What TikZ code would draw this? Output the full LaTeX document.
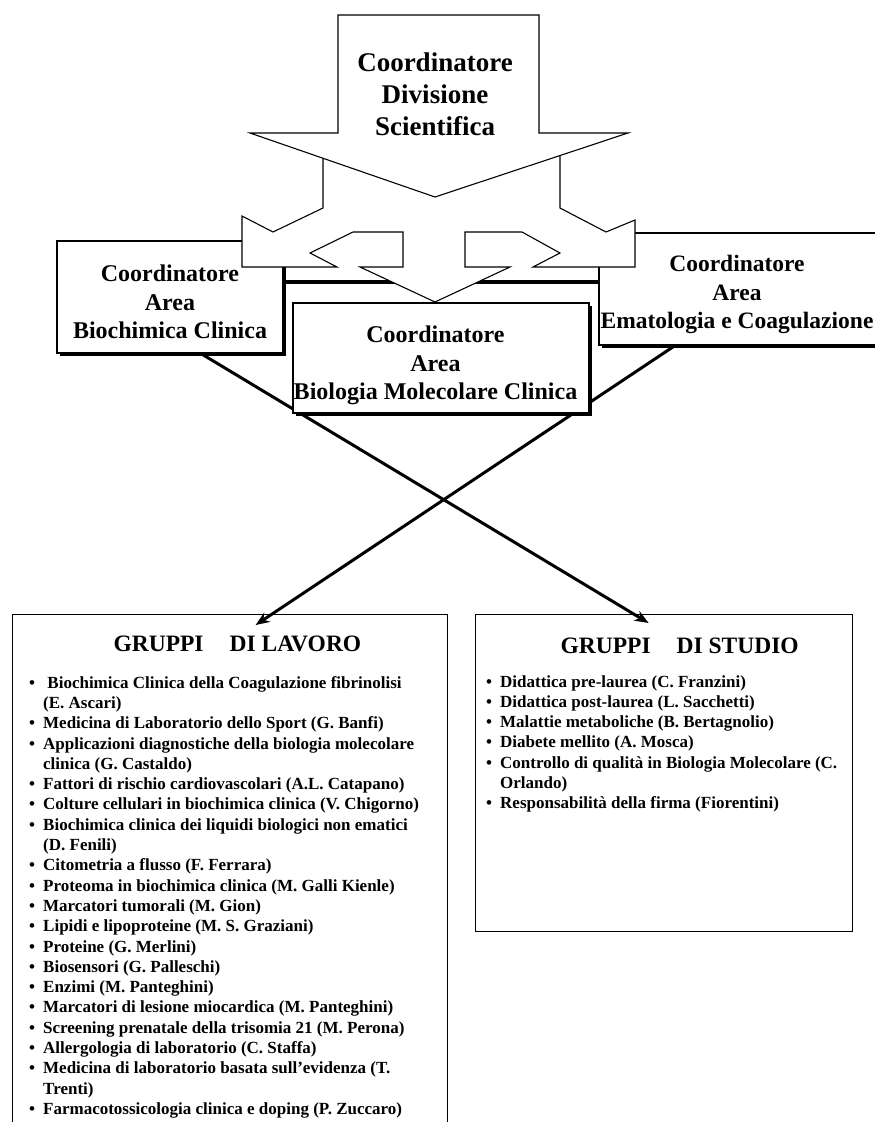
\documentclass[tikz,border=0pt]{standalone}
\usepackage{fontspec}
\setmainfont{Liberation Serif}
\usetikzlibrary{positioning,shadows,arrows.meta}

\newcommand{\gitem}[1]{\makebox[14pt][l]{\textbullet}#1}
\newcommand{\gcont}[1]{\hspace*{14pt}#1}

\tikzset{
	coordbox/.style={draw,fill=white,line width=1.2pt,inner sep=0pt,
		drop shadow={shadow xshift=2.5pt,shadow yshift=-2.5pt,fill=black,opacity=1}},
	coordtext/.style={align=center,inner sep=0pt,font=\fontsize{24}{28.5}\selectfont\bfseries},
	groupbox/.style={draw,line width=1.2pt,inner sep=0pt,anchor=north west},
	grouptitle/.style={font=\fontsize{23.5}{28}\selectfont\bfseries,inner sep=0pt},
	grouplist/.style={font=\fontsize{17}{20.3}\selectfont\bfseries,align=left,inner sep=0pt,anchor=north west},
	bigarrow/.style={draw,fill=white,line width=1.1pt,line join=miter},
	crossarrow/.style={line width=3pt,-{Stealth[length=14pt,width=11pt]}},
	bar/.style={line width=4pt}
}

\begin{document}
\begin{tikzpicture}[x=1pt,y=-1pt]
	\useasboundingbox (0,0) rectangle (875,1122);
	% side coordinators
	\node[coordbox,minimum width=226pt,minimum height=112pt] (bio) at (170,297) {};
	\node[coordtext] (biotext) at ([yshift=-5pt]bio.center) {Coordinatore\\Area\\Biochimica Clinica};
	\node[coordbox,minimum width=278pt,minimum height=112pt] (ema) at (738,289) {};
	\node[coordtext,font=\fontsize{23.5}{28.5}\selectfont\bfseries] (ematext) at ([xshift=-1pt,yshift=-5.5pt]ema.center) {Coordinatore\\Area\\Ematologia e Coagulazione};
	\coordinate (barmid) at (441,282);
	\draw[bar] (bio.east |- barmid) -- (ema.west |- barmid);
	% three-way arrow
	\draw[bigarrow] (323,140) -- (323,208) -- (273,232) -- (242,216) -- (242,267) -- (337,267) -- (310,253) -- (353,232) -- (403,232) -- (403,267) -- (360,267) -- (435,302) -- (510,267) -- (465,267) -- (465,232) -- (522,232) -- (560,253) -- (533,267) -- (635,267) -- (635,220) -- (606,232) -- (560,208) -- (560,140) -- cycle;
	% top arrow
	\draw[bigarrow] (338,15) -- (539,15) -- (539,133) -- (628,133) -- (435,197) -- (250,133) -- (338,133) -- cycle;
	\node[font=\fontsize{27}{32}\selectfont\bfseries,align=center] (div) at (435,94) {Coordinatore\\Divisione\\Scientifica};
	% groups
	\node[groupbox,minimum width=435pt,minimum height=512pt] (lavoro) at (11.7,614) {};
	\node[groupbox,minimum width=377pt,minimum height=317pt] (studio) at (475,614) {};
	\draw[crossarrow] ([xshift=31pt]bio.south) -- ([xshift=-15.5pt,yshift=-9pt]studio.north);
	\draw[crossarrow] ([xshift=-63pt]ema.south) -- ([xshift=25.8pt,yshift=-11pt]lavoro.north);
	\node[coordbox,minimum width=296pt,minimum height=110pt] (bml) at (441,358) {};
	\node[coordtext] (bmltext) at ([xshift=-5.5pt,yshift=-7.5pt]bml.center) {Coordinatore\\Area\\Biologia Molecolare Clinica};
	\node[grouptitle] (lavtitle) at (237.4,644) {GRUPPI\hspace{26pt}DI LAVORO};
	\node[grouptitle] (studtitle) at (679.7,646) {GRUPPI\hspace{26pt}DI STUDIO};
	\node[grouplist] (lavlist) at (29,676) {%
		\gitem{\ Biochimica Clinica della Coagulazione fibrinolisi}\\
		\gcont{(E. Ascari)}\\
		\gitem{Medicina di Laboratorio dello Sport (G. Banfi)}\\
		\gitem{Applicazioni diagnostiche della biologia molecolare}\\
		\gcont{clinica (G. Castaldo)}\\
		\gitem{Fattori di rischio cardiovascolari (A.L. Catapano)}\\
		\gitem{Colture cellulari in biochimica clinica (V. Chigorno)}\\
		\gitem{Biochimica clinica dei liquidi biologici non ematici}\\
		\gcont{(D. Fenili)}\\
		\gitem{Citometria a flusso (F. Ferrara)}\\
		\gitem{Proteoma in biochimica clinica (M. Galli Kienle)}\\
		\gitem{Marcatori tumorali (M. Gion)}\\
		\gitem{Lipidi e lipoproteine (M. S. Graziani)}\\
		\gitem{Proteine (G. Merlini)}\\
		\gitem{Biosensori (G. Palleschi)}\\
		\gitem{Enzimi (M. Panteghini)}\\
		\gitem{Marcatori di lesione miocardica (M. Panteghini)}\\
		\gitem{Screening prenatale della trisomia 21 (M. Perona)}\\
		\gitem{Allergologia di laboratorio (C. Staffa)}\\
		\gitem{Medicina di laboratorio basata sull'evidenza (T.}\\
		\gcont{Trenti)}\\
		\gitem{Farmacotossicologia clinica e doping (P. Zuccaro)}};
	\node[grouplist] (studlist) at (486,675) {%
		\gitem{Didattica pre-laurea (C. Franzini)}\\
		\gitem{Didattica post-laurea (L. Sacchetti)}\\
		\gitem{Malattie metaboliche (B. Bertagnolio)}\\
		\gitem{Diabete mellito (A. Mosca)}\\
		\gitem{Controllo di qualità in Biologia Molecolare (C.}\\
		\gcont{Orlando)}\\
		\gitem{Responsabilità della firma (Fiorentini)}};
\end{tikzpicture}
\end{document}
